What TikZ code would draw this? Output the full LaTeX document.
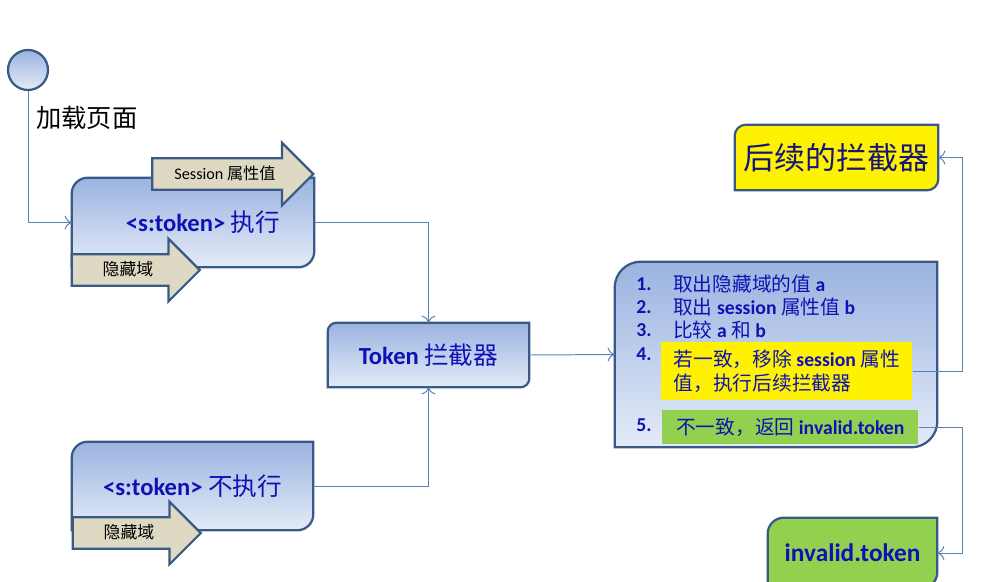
\documentclass[tikz,border=0pt]{standalone}
\usepackage{fontspec}
\setmainfont{Carlito}
\newfontfamily\cjk{Noto Sans CJK SC}
\usetikzlibrary{positioning,shapes.arrows,arrows.meta,backgrounds}
\definecolor{edge}{HTML}{3A5A85}
\definecolor{wire}{HTML}{5B82B5}
\definecolor{ink}{HTML}{0E12B4}
\definecolor{navy}{HTML}{16167A}
\definecolor{skytop}{HTML}{9AB3E0}
\definecolor{skybot}{HTML}{E4EBF8}
\definecolor{tan}{HTML}{DDD9C3}
\definecolor{lime}{HTML}{92D050}
\tikzset{boxline/.style={draw=edge,line width=1.6pt}}
\tikzset{sky/.style={top color=skytop,bottom color=skybot}}
\tikzset{holder/.style={inner sep=0pt,text=ink}}
\tikzset{conn/.style={draw=wire,line width=0.7pt,-{To[length=5pt,width=10pt]}}}
\tikzset{tag/.style={single arrow,boxline,fill=tan,inner xsep=2pt,inner ysep=2.5pt,
        text height=0.42cm,text depth=0.13cm,single arrow head extend=0.39cm}}
\tikzset{item/.style={anchor=west,inner sep=0pt,text=ink,font=\fontsize{14}{17}\selectfont}}
% box with rounded top left and bottom right corners
\newcommand{\cornerbox}[3][]{%
    \draw[boxline,#1] (#3.west) [rounded corners=#2] -- (#3.north west) [sharp corners]
        -- (#3.north east) -- (#3.east) [rounded corners=#2] -- (#3.south east) [sharp corners]
        -- (#3.south west) -- cycle;}

\begin{document}
\begin{tikzpicture}[x=0.025cm,y=-0.025cm]
    \useasboundingbox (0,0) rectangle (988,581);

    % start
    \node[circle,boxline,sky,minimum size=1cm] (start) at (28,70) {};
    \node[anchor=west,inner sep=0pt,font=\fontsize{18}{20}\selectfont] (load) at (36,118) {\cjk 加载页面};

    % boxes
    \node[holder,minimum width=6.05cm,minimum height=2.225cm,font=\fontsize{17.5}{20}\selectfont] (exec) at (193,222.5)
        {\hspace*{0.5cm}\textbf{<s:token>} {\cjk 执行}};
    \node[holder,minimum width=6.025cm,minimum height=2.2cm,font=\fontsize{17.5}{20}\selectfont] (skip) at (192.5,486)
        {\textbf{<s:token>} {\cjk 不执行}};
    \node[holder,minimum width=5.025cm,minimum height=1.6cm,font=\fontsize{17.5}{20}\selectfont] (token) at (428.5,355)
        {\textbf{Token} {\cjk 拦截器}};
    \node[holder,minimum width=8.05cm,minimum height=4.625cm] (check) at (776,354.5) {};
    \node[holder,text=navy,minimum width=5.075cm,minimum height=1.625cm,font=\fontsize{22}{24}\selectfont] (next) at (836.5,157.5)
        {\cjk 后续的拦截器};
    \node[holder,minimum width=4.225cm,minimum height=1.75cm,font=\fontsize{18}{20}\selectfont] (fail) at (852.5,553)
        {\textbf{invalid.token}};

    \begin{pgfonlayer}{background}
        \cornerbox[sky]{0.4cm}{exec}
        \cornerbox[sky]{0.4cm}{skip}
        \cornerbox[sky]{0.22cm}{token}
        \cornerbox[sky]{0.65cm}{check}
        \cornerbox[fill=yellow]{0.28cm}{next}
        \cornerbox[fill=lime]{0.4cm}{fail}
    \end{pgfonlayer}

    % hidden field and session tags
    \node[tag,minimum height=4.025cm,font=\fontsize{11.5}{13}\selectfont] (session) at (225,174) {Session {\cjk 属性值}};
    \node[tag,minimum height=3.2cm,font=\fontsize{12}{13}\selectfont] (hide1) at (128,270) {\cjk 隐藏域};
    \node[tag,minimum height=3.2cm,font=\fontsize{12}{13}\selectfont] (hide2) at (129,533) {\cjk 隐藏域};

    % steps inside the check box
    \foreach \n/\y in {1/284,2/307,3/330,4/354,5/425}
        \node[item,font=\fontsize{14}{16}\selectfont\bfseries] (num\n) at (636,\y) {\n.};
    \node[item] (step1) at (673,284) {{\cjk 取出隐藏域的值} \textbf{a}};
    \node[item] (step2) at (673,307) {{\cjk 取出} \textbf{session} {\cjk 属性值} \textbf{b}};
    \node[item] (step3) at (673,330) {{\cjk 比较} \textbf{a} {\cjk 和} \textbf{b}};
    \node[item,anchor=north west,fill=yellow,align=left,minimum width=6.275cm,minimum height=1.45cm,inner xsep=0.3cm] (yes) at (661,342)
        {{\cjk 若一致，移除} \textbf{session} {\cjk 属性}\\{\cjk 值，执行后续拦截器}};
    \node[item,anchor=north west,fill=lime,minimum width=6.4cm,minimum height=0.85cm,inner xsep=0.28cm] (no) at (662,410)
        {{\cjk 不一致，返回} \textbf{invalid.token}};

    % connectors
    \coordinate (rail) at (962,0);
    \draw[conn] (start.south) |- (exec.west);
    \draw[conn] (exec.east) -| (token.north);
    \draw[conn] (skip.east) -| (token.south);
    \draw[conn] (token.east) -- (check.west);
    \draw[conn] (yes.east) -- (yes.east -| rail) |- (next.east);
    \draw[conn] (no.east) -- (no.east -| rail) |- (fail.east);
\end{tikzpicture}
\end{document}
